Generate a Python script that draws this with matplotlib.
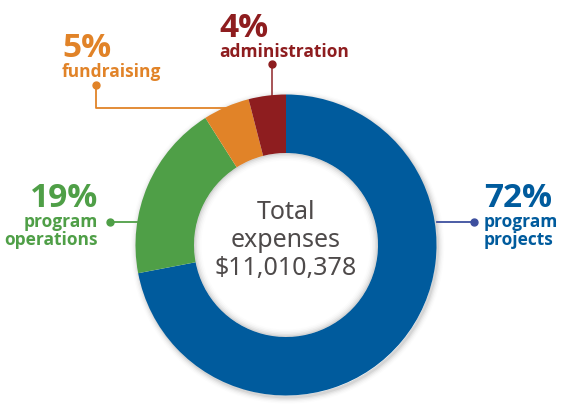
import matplotlib.pyplot as plt
from matplotlib.patches import Wedge

# data
labels = [["program", "projects"], ["program", "operations"], ["fundraising"], ["administration"]]
pcts = [72, 19, 5, 4]
colors = ["#005b9d", "#4f9f47", "#e18328", "#8e1d1f"]
total_lines = ["Total", "expenses", "$11,010,378"]

W, H = 567, 412
fig = plt.figure(figsize=(W / 100, H / 100), dpi=100)
ax = fig.add_axes([0, 0, 1, 1])
plt.rcParams["font.family"] = ["Noto Sans", "DejaVu Sans"]
bold_fam = ["Open Sans", "DejaVu Sans"]

cx, cy = 286, H - 245
r_out, r_in = 150.5, 92

def Y(y):
    return H - y

# soft shadow around the ring
for i, a in enumerate([0.06, 0.045, 0.03, 0.02, 0.012]):
    ax.add_patch(Wedge((cx + 1.5, cy - 2), r_out + 1 + i * 1.3, 0, 360, width=3 + i * 1.3,
                       color="#000000", alpha=a, lw=0, zorder=0))

ax.pie(pcts, colors=colors, startangle=90, counterclock=False, radius=r_out,
       center=(cx, cy), wedgeprops=dict(width=r_out - r_in, edgecolor="none"),
       frame=True)

# inner shadow of the hole
for i, a in enumerate([0.06, 0.045, 0.03, 0.02, 0.012]):
    ax.add_patch(Wedge((cx, cy), r_in, 0, 360, width=1.5 + i * 1.5, color="#000000",
                       alpha=a, lw=0, zorder=3))

for line, base in zip(total_lines, [219, 247, 275]):
    ax.text(cx, Y(base), line, ha="center", va="baseline", fontsize=18,
            color="#4e4a4a", zorder=5)

big = 24
small = 12.5
fw = "bold"

def label(i, x, y_big, y_small, ha):
    ax.text(x, Y(y_big), f"{pcts[i]}%", color=colors[i], fontsize=big, fontweight=fw,
            family=bold_fam, ha=ha, va="baseline")
    for k, line in enumerate(labels[i]):
        ax.text(x, Y(y_small + 18 * k), line, color=colors[i], fontsize=small,
                fontweight=fw, family=bold_fam, ha=ha, va="baseline")

# 72% program projects
ax.plot([437, 474], [Y(222), Y(222)], color="#3d4f9e", lw=1.3, zorder=4)
ax.plot(474, Y(222), "o", color="#3d4f9e", ms=5, zorder=4)
label(0, 484, 207, 227, "left")

# 19% program operations
ax.plot([110, 137], [Y(222), Y(222)], color=colors[1], lw=1.3, zorder=4)
ax.plot(110, Y(222), "o", color=colors[1], ms=5, zorder=4)
label(1, 98, 207, 227, "right")

# 5% fundraising
ax.plot([96, 96, 226], [Y(85), Y(108), Y(108)], color=colors[2], lw=1.3, zorder=0.5)
ax.plot(96, Y(85), "o", color=colors[2], ms=5, zorder=4)
label(2, 62, 57, 77, "left")

# 4% administration
ax.plot([272, 272], [Y(64), Y(96)], color="#a0474a", lw=1.3, zorder=0.5)
ax.plot(272, Y(64), "o", color=colors[3], ms=5, zorder=4)
label(3, 219, 37, 57, "left")

ax.set_xlim(0, W)
ax.set_ylim(0, H)
ax.set_aspect("equal")
ax.axis("off")
fig.savefig("out.png", dpi=100)
